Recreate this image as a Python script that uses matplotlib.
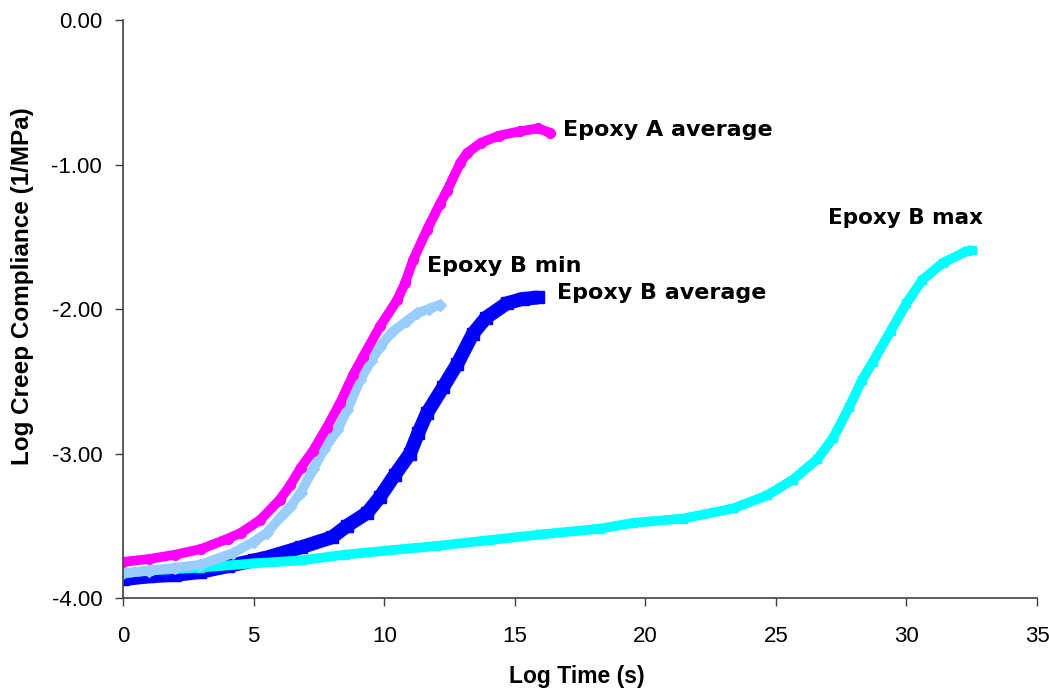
import matplotlib
matplotlib.use("Agg")
import matplotlib.pyplot as plt

# ---------------------------------------------------------
# data (log time, log compliance)
# ---------------------------------------------------------
A_AVG_X = [0.0, 1.0, 2.0, 3.0, 4.0, 4.5, 5.25, 6.0, 6.4, 6.8, 7.28, 7.8, 8.31,
           8.8, 9.19, 9.84, 10.49, 10.8, 11.11, 11.64, 12.14, 12.41, 12.91,
           13.18, 13.7, 14.4, 15.2, 15.9, 16.35]
A_AVG_Y = [-3.75, -3.73, -3.70, -3.66, -3.59, -3.55, -3.46, -3.32, -3.22, -3.10,
           -2.98, -2.82, -2.65, -2.46, -2.33, -2.12, -1.94, -1.82, -1.66, -1.45,
           -1.27, -1.18, -0.99, -0.92, -0.85, -0.80, -0.77, -0.75, -0.78]

B_MIN_X = [0.0, 1.0, 2.0, 2.95, 4.2, 5.0, 5.5, 6.13, 6.4, 6.8, 7.28, 7.7, 8.2,
           8.58, 9.08, 9.5, 9.84, 10.3, 10.88, 11.26, 11.7, 12.14]
B_MIN_Y = [-3.83, -3.81, -3.79, -3.77, -3.69, -3.61, -3.55, -3.42, -3.37, -3.27,
           -3.11, -2.97, -2.84, -2.70, -2.49, -2.36, -2.26, -2.16, -2.08, -2.03,
           -2.00, -1.97]

B_AVG_X = [0.0, 1.0, 2.0, 2.95, 4.0, 5.0, 5.5, 6.8, 8.0, 8.58, 9.35, 9.84, 10.4,
           10.99, 11.3, 11.64, 12.26, 12.8, 13.4, 13.9, 14.7, 15.3, 15.9]
B_AVG_Y = [-3.87, -3.85, -3.84, -3.82, -3.78, -3.74, -3.72, -3.65, -3.58, -3.50,
           -3.41, -3.30, -3.15, -3.00, -2.86, -2.72, -2.54, -2.38, -2.17, -2.06,
           -1.96, -1.93, -1.92]

B_MAX_X = [0.0, 1.0, 2.95, 5.0, 6.8, 8.5, 10.2, 12.0, 14.0, 16.0, 18.27, 19.53,
           21.45, 23.36, 24.66, 25.66, 26.58, 27.2, 27.8, 28.3, 28.7, 29.4, 30.0,
           30.6, 31.4, 32.3, 32.5]
B_MAX_Y = [-3.83, -3.81, -3.79, -3.76, -3.74, -3.70, -3.67, -3.64, -3.60, -3.56,
           -3.52, -3.48, -3.45, -3.38, -3.29, -3.18, -3.04, -2.89, -2.68, -2.49,
           -2.37, -2.15, -1.96, -1.80, -1.68, -1.60, -1.59]

X_TICKS = [0, 5, 10, 15, 20, 25, 30, 35]
Y_TICKS = [-4, -3, -2, -1, 0]

# ---------------------------------------------------------
plt.rcParams["font.family"] = ["Liberation Sans", "DejaVu Sans"]

fig = plt.figure(figsize=(10.49, 6.90), dpi=100)
ax = fig.add_axes([0.1173, 0.1333, 0.8713, 0.8377])

# draw order: blue, cyan, light blue, magenta on top
series = [
    (B_AVG_X, B_AVG_Y, "#0000FF", "s", 9, 10),
    (B_MAX_X, B_MAX_Y, "#00FFFF", "s", 6, 7),
    (B_MIN_X, B_MIN_Y, "#99CCFF", "D", 6, 7),
    (A_AVG_X, A_AVG_Y, "#FF00FF", "o", 7, 7),
]
for xs, ys, col, mk, ms, lw in series:
    ax.plot(xs, ys, color=col, lw=lw, marker=mk, ms=ms, mec=col, mfc=col,
            solid_capstyle="butt", solid_joinstyle="round")

# series labels
lab_kw = dict(fontweight="bold", va="center", ha="left", family="DejaVu Sans")
ax.text(16.85, -0.76, "Epoxy A average", fontsize=16, **lab_kw)
ax.text(11.64, -1.70, "Epoxy B min", fontsize=16, **lab_kw)
ax.text(16.62, -1.89, "Epoxy B average", fontsize=16, **lab_kw)
ax.text(27.0, -1.37, "Epoxy B max", fontsize=15.5, **lab_kw)

ax.set_xlim(0, 35)
ax.set_ylim(-4, 0)
ax.set_xticks(X_TICKS)
ax.set_yticks(Y_TICKS)
ax.set_xticklabels([str(t) for t in X_TICKS])
ax.set_yticklabels([f"{t:.2f}" for t in Y_TICKS])
ax.tick_params(labelsize=16, length=6, width=1, direction="out", color="#404040")
ax.tick_params(axis="x", pad=14)
ax.tick_params(axis="y", pad=9)

for s in ["top", "right"]:
    ax.spines[s].set_visible(False)
for s in ["left", "bottom"]:
    ax.spines[s].set_color("#404040")
    ax.spines[s].set_linewidth(1.2)

ax.set_xlabel("Log Time (s)", fontsize=16.5, fontweight="bold")
ax.xaxis.label.set_va("center")
ax.xaxis.set_label_coords(0.497, -0.135)
ax.set_ylabel("Log Creep Compliance (1/MPa)", fontsize=17.5, fontweight="bold")
ax.yaxis.label.set_va("center")
ax.yaxis.set_label_coords(-0.1105, 0.54)

plt.savefig("out.png", dpi=100)
plt.close()
